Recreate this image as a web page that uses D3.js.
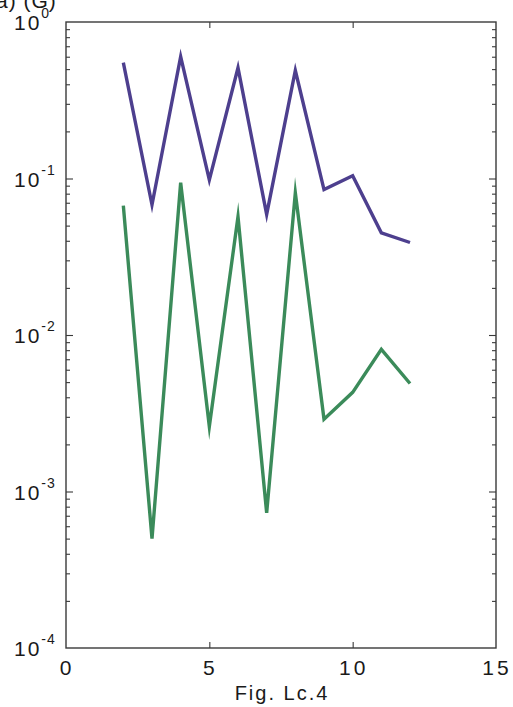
<!DOCTYPE html>
<html>
<head>
<meta charset="utf-8">
<script src="https://cdn.jsdelivr.net/npm/d3@7"></script>
<style>
  html, body { margin: 0; padding: 0; background: #fff; }
  svg { display: block; }
  text { font-family: "Liberation Sans", Arial, sans-serif; fill: #1a1a1a; }
</style>
</head>
<body>
<svg id="chart" width="513" height="707"></svg>
<script>
// ---- data ----
const xValues = [2, 3, 4, 5, 6, 7, 8, 9, 10, 11, 12];
const purpleSeries = [0.55, 0.068, 0.60, 0.098, 0.51, 0.059, 0.49, 0.085, 0.104, 0.045, 0.039];
const greenSeries  = [0.067, 0.0005, 0.094, 0.0026, 0.057, 0.00073, 0.081, 0.0029, 0.0043, 0.0081, 0.0049];
const xTickLabels = [0, 5, 10, 15];
const yExponents = [0, -1, -2, -3, -4];
const panelLabel = "a) (G)";
const xCaption = "Fig. Lc.4";

// ---- layout ----
const svg = d3.select("#chart");
const L = 66, R = 496, T = 22, B = 648;
const x = d3.scaleLinear().domain([0, 15]).range([L, R]);
const y = d3.scaleLog().domain([1e-4, 1]).range([B, T]);
const axisColor = "#3a3a3a";

// frame
svg.append("rect").attr("x", L).attr("y", T).attr("width", R - L).attr("height", B - T)
  .attr("fill", "none").attr("stroke", axisColor).attr("stroke-width", 1.4);

// y ticks
const majors = yExponents.map(e => Math.pow(10, e));
const minors = [];
for (let e = -4; e < 0; e++) for (let m = 2; m <= 9; m++) minors.push(m * Math.pow(10, e));

function yAxisGroup(axisFn, tx, vals, size) {
  const g = svg.append("g").attr("transform", `translate(${tx},0)`)
    .call(axisFn(y).tickValues(vals).tickSize(size).tickFormat(""));
  g.select(".domain").remove();
  g.selectAll("line").attr("stroke", axisColor).attr("stroke-width", 1.1);
}
yAxisGroup(d3.axisLeft, L, majors.slice(1, -1), -7);
yAxisGroup(d3.axisLeft, L, minors, -4);
yAxisGroup(d3.axisRight, R, majors.slice(1, -1), -7);
yAxisGroup(d3.axisRight, R, minors, -4);

// x ticks
function xAxisGroup(axisFn, ty) {
  const g = svg.append("g").attr("transform", `translate(0,${ty})`)
    .call(axisFn(x).tickValues([5, 10]).tickSize(-6).tickFormat(""));
  g.select(".domain").remove();
  g.selectAll("line").attr("stroke", axisColor).attr("stroke-width", 1.1);
}
xAxisGroup(d3.axisBottom, B);
xAxisGroup(d3.axisTop, T);

// y tick labels
yExponents.forEach(e => {
  const yy = y(Math.pow(10, e));
  const t = svg.append("text").attr("x", 14).attr("y", yy + 8)
    .style("font-size", "21px").style("letter-spacing", "2px");
  t.append("tspan").text("10");
  t.append("tspan").attr("dy", -12).attr("dx", 0).style("font-size", "14px").style("letter-spacing", "1px").text(e);
});

// x tick labels
xTickLabels.forEach(v => {
  svg.append("text").attr("x", x(v) + 1).attr("y", 675).attr("text-anchor", "middle")
    .style("font-size", "21px").style("letter-spacing", "3px").text(v);
});

// caption
svg.append("text").attr("x", 282).attr("y", 700).attr("text-anchor", "middle")
  .style("font-size", "20px").style("letter-spacing", "2px").text(xCaption);

// panel label (partially cut off at top, as in the source scan)
svg.append("text").attr("x", -4).attr("y", 8)
  .style("font-size", "21px").style("letter-spacing", "1px").text(panelLabel);

// lines
const line = d3.line().x(d => x(d[0])).y(d => y(d[1]));
function drawSeries(vals, color) {
  svg.append("path").datum(xValues.map((xv, i) => [xv, vals[i]]))
    .attr("d", line).attr("fill", "none").attr("stroke", color)
    .attr("stroke-width", 3.4).attr("stroke-linejoin", "miter").attr("stroke-miterlimit", 10);
}
drawSeries(purpleSeries, "#4d3f8e");
drawSeries(greenSeries, "#3b8b5a");
</script>
</body>
</html>
